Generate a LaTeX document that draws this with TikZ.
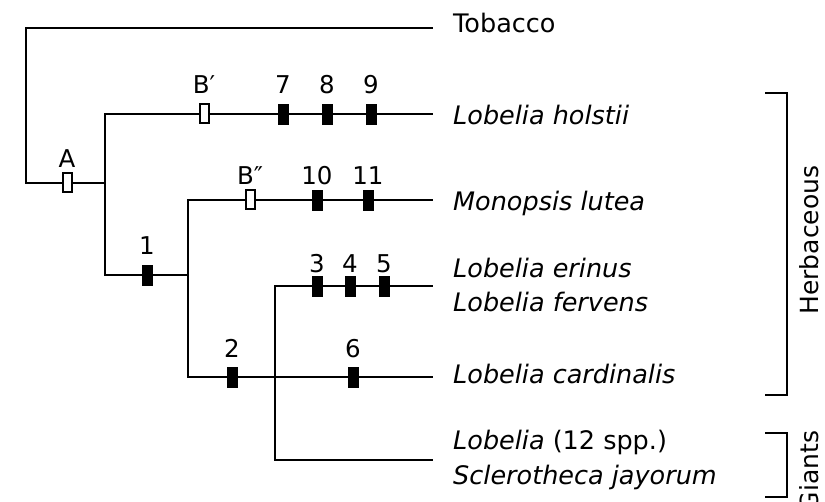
\documentclass[tikz,border=0pt]{standalone}
\usepackage{fontspec}
\setmainfont{DejaVu Sans}
\begin{document}
\begin{tikzpicture}[x=1pt,y=-1pt,
  branch/.style={line width=2.4pt, line cap=rect},
  synap/.style={draw, fill=black, minimum width=10pt, minimum height=20pt, inner sep=0pt, line width=0.8pt},
  plesio/.style={draw, fill=white, minimum width=9pt, minimum height=19pt, inner sep=0pt, line width=2pt},
  taxon/.style={anchor=base west, inner sep=0pt, font=\fontsize{25.5}{30}\selectfont},
  num/.style={font=\fontsize{24.5}{28}\selectfont, inner sep=0pt},
  brk/.style={line width=2.4pt},
  group/.style={rotate=90, anchor=base, inner sep=0pt, font=\fontsize{25}{30}\selectfont}]
\useasboundingbox (0,0) rectangle (825,502);

% junction and tip coordinates
\coordinate (root) at (26,28);
\coordinate (tTob) at (432,28);
\coordinate (rA) at (26,183);
\coordinate (n1) at (105,183);
\coordinate (n1t) at (105,114);
\coordinate (n1b) at (105,275);
\coordinate (tHol) at (432,114);
\coordinate (n2) at (188,275);
\coordinate (n2t) at (188,200);
\coordinate (n2b) at (188,377);
\coordinate (tMon) at (432,200);
\coordinate (n3) at (275,377);
\coordinate (n3t) at (275,286);
\coordinate (n3b) at (275,460);
\coordinate (tEri) at (432,286);
\coordinate (tCar) at (432,377);
\coordinate (tGia) at (432,460);

% branches
\draw[branch] (tTob) -- (root) -- (rA) -- (n1);
\draw[branch] (tHol) -- (n1t) -- (n1b) -- (n2);
\draw[branch] (tMon) -- (n2t) -- (n2b) -- (tCar);
\draw[branch] (tEri) -- (n3t) -- (n3b) -- (tGia);

% character markers
\node[plesio, label={[num,label distance=5pt]above:A}] (mA) at (67,183) {};
\node[plesio, label={[num,label distance=10pt]above:B′}] (mB1) at (204,114) {};
\node[synap, label={[num,label distance=10pt]above:7}] (m7) at (283,114) {};
\node[synap, label={[num,label distance=10pt]above:8}] (m8) at (327,114) {};
\node[synap, label={[num,label distance=10pt]above:9}] (m9) at (371,114) {};
\node[plesio, label={[num,label distance=5pt]above:B″}] (mB2) at (250,200) {};
\node[synap, label={[num,label distance=5pt]above:10}] (m10) at (317,200) {};
\node[synap, label={[num,label distance=5pt]above:11}] (m11) at (368,200) {};
\node[synap, label={[num,label distance=10pt]above:1}] (m1) at (147,275) {};
\node[synap, label={[num,label distance=3pt]above:3}] (m3) at (317,286) {};
\node[synap, label={[num,label distance=3pt]above:4}] (m4) at (350,286) {};
\node[synap, label={[num,label distance=3pt]above:5}] (m5) at (384,286) {};
\node[synap, label={[num,label distance=9pt]above:2}] (m2) at (232,377) {};
\node[synap, label={[num,label distance=9pt]above:6}] (m6) at (353,377) {};

% taxa
\node[taxon] (Tob) at (453,33) {Tobacco};
\node[taxon] (Hol) at (453,125) {\itshape Lobelia holstii};
\node[taxon] (Mon) at (453,211) {\itshape Monopsis lutea};
\node[taxon] (Eri) at (453,278) {\itshape Lobelia erinus};
\node[taxon] (Fer) at (453,312) {\itshape Lobelia fervens};
\node[taxon] (Car) at (453,384) {\itshape Lobelia cardinalis};
\node[taxon] (Gi1) at (453,450) {\textit{Lobelia} (12 spp.)};
\node[taxon] (Gi2) at (453,485) {\itshape Sclerotheca jayorum};

% brackets
\draw[brk] (765,93) -- (787,93) -- (787,395) -- (765,395);
\draw[brk] (765,433) -- (787,433) -- (787,497) -- (765,497);
\node[group] (Herb) at (818,240) {Herbaceous};
\node[group] (Gnt) at (818,471) {Giants};
\end{tikzpicture}
\end{document}
